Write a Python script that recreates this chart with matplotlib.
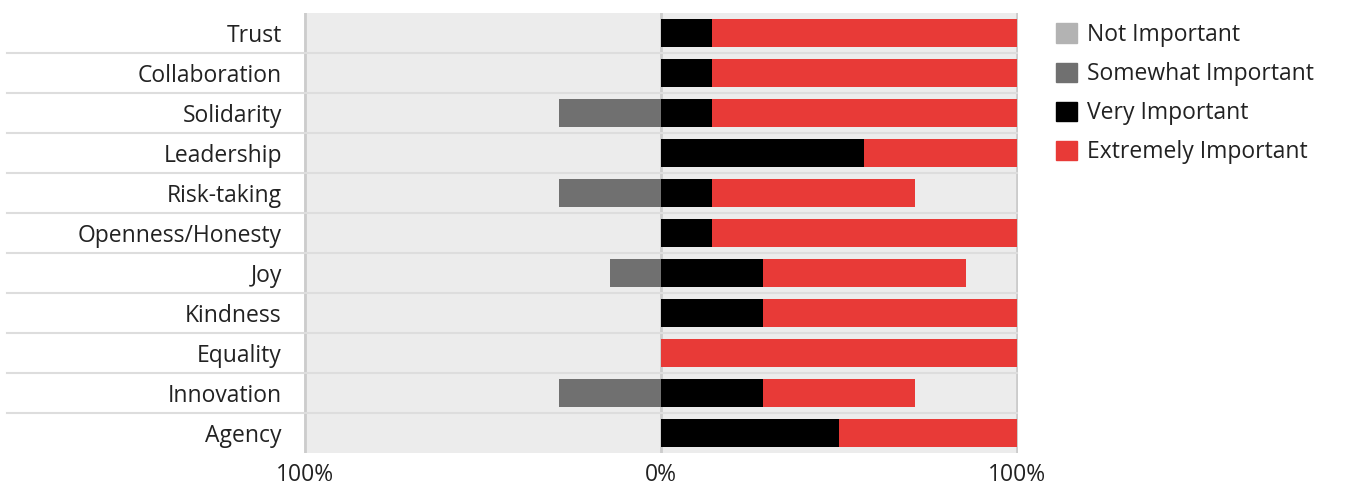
import matplotlib.pyplot as plt
from matplotlib.patches import Patch
import matplotlib.transforms as mtransforms

plt.rcParams['font.family'] = ['Open Sans', 'DejaVu Sans']

categories = ['Trust', 'Collaboration', 'Solidarity', 'Leadership', 'Risk-taking',
              'Openness/Honesty', 'Joy', 'Kindness', 'Equality', 'Innovation', 'Agency']
not_important = [0, 0, 0, 0, 0, 0, 0, 0, 0, 0, 0]
somewhat = [0, 0, 28.6, 0, 28.6, 0, 14.3, 0, 0, 28.6, 0]
very = [14.3, 14.3, 14.3, 57.1, 14.3, 14.3, 28.6, 28.6, 0, 28.6, 50]
extremely = [85.7, 85.7, 85.7, 42.9, 57.1, 85.7, 57.1, 71.4, 100, 42.9, 50]
tick_labels = ['100%', '0%', '100%']

c_not = '#b3b3b3'
c_some = '#707070'
c_very = '#000000'
c_ext = '#e83a37'
fs = 16.5

fig = plt.figure(figsize=(13.51, 4.84), dpi=100)
ax = fig.add_axes([304/1351, 31/484, 714/1351, 440/484])
ax.set_facecolor('#ececec')

y = list(range(len(categories)))
h = 0.68
neg_some = [-s for s in somewhat]
ax.barh(y, [-n for n in not_important], left=neg_some, height=h, color=c_not)
ax.barh(y, neg_some, height=h, color=c_some)
ax.barh(y, very, height=h, color=c_very)
ax.barh(y, extremely, left=very, height=h, color=c_ext)

ax.set_xlim(-100.4, 100.4)
ax.set_ylim(len(categories) - 0.5, -0.5)
for x in [-100, 0, 100]:
    ax.axvline(x, color='#cccccc', lw=2, zorder=0.5)

# row separators, extending into the label area
trans = mtransforms.blended_transform_factory(fig.transFigure, ax.transData)
for i in range(len(categories) - 1):
    ax.plot([7/1351, 1017/1351], [i + 0.5, i + 0.5], transform=trans,
            color='#dddddd', lw=1.5, clip_on=False, zorder=0.6)

ax.set_yticks(y)
ax.set_yticklabels(categories, fontsize=fs, color='#222222', va='center_baseline')
ax.set_xticks([-100, 0, 100])
ax.set_xticklabels(tick_labels, fontsize=fs, color='#222222')
ax.tick_params(length=0)
ax.tick_params(axis='y', pad=16)
ax.tick_params(axis='x', pad=7)
for s in ax.spines.values():
    s.set_visible(False)

handles = [Patch(color=c_not), Patch(color=c_some), Patch(color=c_very), Patch(color=c_ext)]
labels = ['Not Important', 'Somewhat Important', 'Very Important', 'Extremely Important']
fig.legend(handles, labels, loc='upper left', bbox_to_anchor=(1056/1351, 1 - 23/484),
           frameon=False, fontsize=fs, handlelength=0.92, handleheight=0.92,
           handletextpad=0.45, labelspacing=0.66, labelcolor='#222222',
           borderpad=0, borderaxespad=0)

fig.savefig('out.png', dpi=100)
